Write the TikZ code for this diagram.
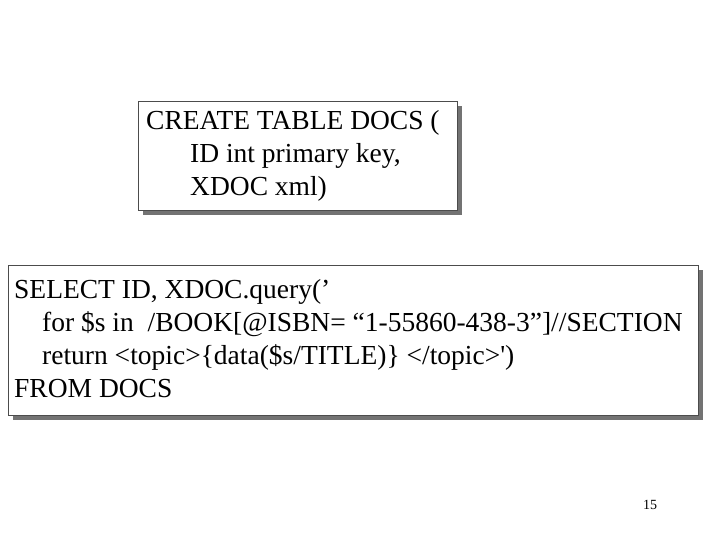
\documentclass[tikz,border=0pt]{standalone}
\usepackage{fontspec}
\setmainfont{Liberation Serif}
\begin{document}
\begin{tikzpicture}[x=1pt,y=-1pt,
  shadowbox/.style={fill=black!55,draw=none},
  codebox/.style={fill=white,draw=black!70,line width=0.8pt},
  code/.style={font=\fontsize{27.5}{33}\selectfont,align=left,anchor=north west,inner sep=0pt}]
  \useasboundingbox (0,0) rectangle (720,540);
  % create table box
  \fill[shadowbox] (143,106) rectangle (462,215);
  \draw[codebox] (138,101) rectangle (457,210);
  \node[code] (create) at (146,110) {CREATE TABLE DOCS (\\
    \hspace*{44pt}ID int primary key,\\
    \hspace*{44pt}XDOC xml)};
  % select box
  \fill[shadowbox] (13,270) rectangle (703,420);
  \draw[codebox] (8,265) rectangle (698,415);
  \node[code] (select) at (14,279) {SELECT ID, XDOC.query(’\\
    \hspace*{28pt}for \$s in\ \ /BOOK[@ISBN= “1-55860-438-3”]//SECTION\\
    \hspace*{28pt}return <topic>\{data(\$s/TITLE)\} </topic>\textquotesingle)\\
    FROM DOCS};
  % page number
  \node[font=\fontsize{14}{16}\selectfont] (page) at (650,505) {15};
\end{tikzpicture}
\end{document}
